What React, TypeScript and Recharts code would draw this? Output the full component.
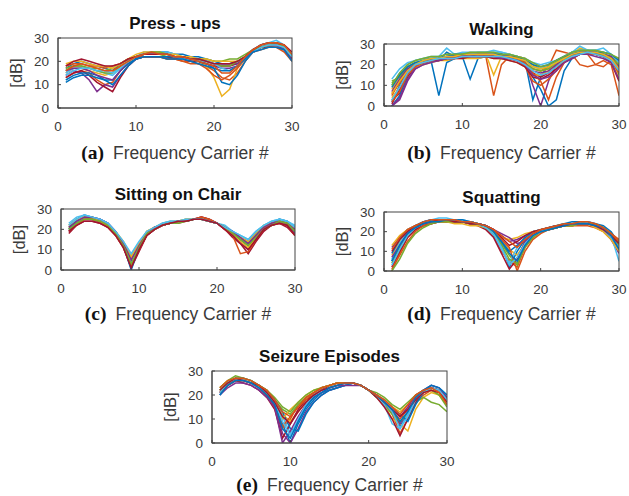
import React from 'react';
import { LineChart, Line, XAxis, YAxis } from 'recharts';

const carriers = [1, 2, 3, 4, 5, 6, 7, 8, 9, 10, 11, 12, 13, 14, 15, 16, 17, 18, 19, 20, 21, 22, 23, 24, 25, 26, 27, 28, 29, 30];
const xTicks = [0, 10, 20, 30];
const yTicks = [0, 10, 20, 30];
const lineColors = ['#0072BD', '#D95319', '#EDB120', '#7E2F8E', '#77AC30', '#4DBEEE', '#A2142F'];

const pressUps: number[][] = [
  [17, 19, 20, 19, 18, 17, 16, 19, 21, 22, 23, 24, 24, 24, 23, 23, 22, 22, 21, 20, 19, 19, 20, 22, 25, 27, 28, 28, 26, 22],
  [13, 15, 16, 15, 12, 10, 11, 16, 19, 21, 22, 22, 22, 21, 21, 20, 20, 19, 18, 16, 13, 12, 15, 20, 24, 26, 26, 27, 25, 21],
  [15, 17, 17, 16, 15, 14, 15, 18, 20, 22, 23, 23, 23, 23, 22, 22, 21, 20, 18, 13, 5, 8, 17, 21, 24, 26, 27, 28, 27, 23],
  [14, 16, 15, 12, 7, 10, 9, 14, 18, 21, 22, 22, 22, 22, 21, 21, 20, 20, 19, 18, 17, 17, 18, 21, 24, 26, 27, 27, 26, 22],
  [16, 18, 18, 17, 17, 16, 17, 19, 21, 22, 23, 23, 23, 22, 22, 22, 21, 21, 21, 20, 20, 21, 21, 23, 25, 26, 27, 27, 26, 23],
  [15, 17, 17, 17, 16, 15, 14, 17, 20, 22, 24, 24, 24, 24, 23, 22, 22, 21, 20, 19, 18, 18, 19, 22, 25, 27, 28, 29, 27, 23],
  [13, 15, 16, 14, 11, 9, 7, 13, 18, 21, 22, 22, 22, 22, 21, 21, 20, 20, 19, 18, 18, 18, 19, 21, 24, 26, 26, 26, 25, 21],
  [12, 14, 15, 15, 14, 12, 12, 16, 19, 21, 22, 22, 22, 22, 22, 21, 21, 20, 19, 17, 11, 10, 14, 20, 24, 26, 27, 27, 26, 22],
  [18, 19, 19, 18, 18, 17, 18, 19, 21, 22, 22, 22, 22, 21, 21, 20, 19, 19, 17, 14, 12, 14, 17, 21, 24, 25, 26, 26, 24, 20],
  [19, 20, 20, 19, 18, 18, 17, 19, 21, 23, 24, 24, 24, 23, 23, 22, 22, 21, 21, 20, 20, 20, 20, 22, 24, 26, 27, 27, 26, 23],
  [16, 17, 17, 16, 14, 13, 12, 16, 20, 22, 23, 23, 23, 23, 22, 22, 21, 21, 20, 19, 19, 19, 19, 21, 24, 26, 27, 27, 25, 21],
  [17, 18, 18, 17, 16, 15, 15, 18, 20, 22, 23, 24, 24, 23, 22, 22, 21, 21, 20, 19, 18, 18, 20, 22, 25, 26, 27, 28, 26, 22],
  [14, 16, 17, 17, 16, 16, 15, 17, 20, 22, 23, 23, 23, 23, 22, 21, 21, 20, 20, 19, 17, 16, 18, 21, 24, 26, 27, 27, 26, 22],
  [18, 20, 21, 20, 19, 18, 18, 19, 21, 22, 23, 23, 23, 23, 22, 22, 21, 21, 20, 19, 19, 19, 20, 22, 25, 27, 28, 28, 27, 24],
  [11, 13, 14, 14, 13, 12, 10, 14, 18, 21, 22, 22, 22, 21, 21, 21, 20, 19, 18, 17, 16, 16, 18, 21, 24, 25, 26, 26, 25, 20],
  [16, 18, 19, 18, 17, 16, 16, 18, 20, 22, 23, 24, 23, 23, 22, 22, 21, 20, 19, 18, 15, 15, 18, 22, 25, 27, 28, 28, 27, 23],
];

const walking: number[][] = [
  [2, 10, 17, 20, 21, 22, 5, 21, 23, 24, 24, 25, 25, 25, 25, 24, 23, 22, 3, 14, 20, 22, 24, 26, 27, 27, 26, 25, 23, 18],
  [5, 12, 18, 20, 21, 22, 23, 24, 24, 24, 25, 25, 24, 5, 20, 24, 24, 23, 18, 17, 19, 27, 26, 25, 20, 19, 20, 22, 20, 5],
  [8, 14, 18, 21, 21, 22, 23, 23, 24, 25, 25, 25, 25, 15, 24, 25, 24, 23, 20, 17, 18, 20, 23, 25, 28, 27, 26, 25, 24, 20],
  [0, 3, 12, 18, 20, 22, 23, 24, 24, 25, 25, 25, 25, 25, 25, 24, 23, 21, 10, 0, 12, 20, 23, 25, 26, 26, 26, 25, 23, 19],
  [12, 14, 19, 21, 22, 23, 23, 24, 24, 25, 25, 25, 25, 24, 24, 24, 23, 22, 20, 18, 19, 21, 23, 25, 26, 26, 26, 25, 24, 21],
  [10, 16, 20, 22, 23, 23, 24, 24, 25, 26, 26, 26, 26, 26, 26, 25, 24, 23, 21, 20, 21, 22, 24, 26, 27, 27, 27, 26, 25, 22],
  [3, 6, 14, 19, 21, 22, 23, 23, 24, 24, 24, 24, 24, 24, 24, 23, 22, 20, 16, 14, 16, 19, 22, 24, 25, 25, 25, 24, 22, 17],
  [0, 5, 15, 19, 21, 22, 22, 26, 24, 24, 13, 23, 24, 25, 25, 24, 23, 21, 14, 8, 0, 3, 17, 23, 26, 26, 25, 24, 22, 15],
  [6, 11, 17, 20, 21, 22, 22, 23, 23, 24, 24, 24, 24, 24, 23, 23, 22, 19, 12, 10, 13, 17, 22, 24, 26, 25, 20, 19, 22, 16],
  [4, 9, 16, 19, 20, 21, 22, 22, 23, 23, 23, 23, 24, 23, 23, 22, 21, 19, 15, 15, 17, 20, 22, 24, 25, 25, 25, 24, 22, 14],
  [7, 13, 18, 20, 21, 22, 22, 23, 23, 24, 24, 24, 24, 24, 24, 23, 22, 20, 17, 16, 17, 20, 23, 25, 26, 26, 26, 25, 24, 19],
  [11, 15, 19, 21, 21, 22, 23, 23, 24, 24, 24, 24, 24, 25, 24, 24, 23, 21, 18, 17, 18, 21, 23, 24, 25, 25, 25, 25, 23, 20],
  [13, 18, 21, 22, 23, 24, 24, 28, 25, 25, 25, 26, 26, 27, 26, 25, 24, 22, 19, 18, 20, 22, 24, 26, 29, 27, 27, 28, 25, 21],
  [1, 8, 16, 20, 21, 22, 22, 23, 23, 23, 24, 24, 24, 23, 23, 22, 21, 19, 14, 13, 15, 18, 21, 23, 25, 25, 25, 24, 21, 12],
  [9, 15, 19, 21, 22, 23, 23, 24, 25, 25, 25, 25, 25, 25, 25, 24, 24, 22, 20, 19, 20, 22, 24, 25, 26, 26, 26, 26, 25, 22],
  [2, 7, 15, 19, 21, 22, 23, 23, 24, 24, 24, 24, 25, 24, 24, 24, 23, 21, 16, 12, 3, 14, 21, 24, 25, 25, 25, 24, 22, 16],
  [6, 12, 17, 20, 22, 23, 23, 24, 24, 25, 25, 25, 25, 25, 24, 24, 23, 22, 19, 18, 19, 21, 23, 25, 26, 26, 26, 25, 23, 18],
  [0, 4, 13, 18, 20, 21, 22, 23, 23, 24, 24, 24, 24, 24, 23, 23, 22, 20, 15, 13, 14, 17, 21, 23, 25, 25, 24, 23, 21, 13],
  [10, 16, 20, 22, 23, 24, 24, 25, 25, 25, 26, 26, 26, 26, 25, 25, 24, 23, 21, 19, 20, 22, 24, 26, 27, 27, 27, 26, 25, 23],
  [3, 9, 16, 20, 21, 22, 23, 23, 23, 24, 24, 24, 24, 24, 24, 23, 22, 20, 17, 15, 16, 19, 22, 24, 25, 26, 25, 24, 22, 17],
];

const sitting: number[][] = [
  [22, 25, 27, 26, 25, 23, 19, 13, 2, 11, 17, 20, 22, 23, 24, 24, 25, 25, 24, 23, 21, 19, 16, 14, 18, 21, 23, 25, 24, 21],
  [20, 23, 25, 25, 24, 22, 18, 12, 5, 12, 18, 21, 22, 23, 24, 24, 25, 25, 24, 23, 21, 18, 15, 12, 16, 21, 22, 24, 23, 19],
  [21, 24, 26, 25, 24, 22, 19, 14, 7, 13, 19, 21, 23, 24, 24, 25, 25, 25, 24, 23, 21, 18, 16, 14, 18, 22, 23, 24, 23, 20],
  [19, 23, 25, 25, 24, 22, 18, 12, 4, 10, 17, 20, 22, 23, 24, 24, 25, 26, 25, 23, 20, 17, 14, 10, 15, 20, 22, 23, 22, 18],
  [21, 24, 26, 25, 24, 22, 18, 13, 6, 12, 18, 21, 22, 23, 24, 24, 25, 25, 24, 23, 21, 18, 15, 13, 17, 21, 22, 24, 23, 19],
  [23, 26, 27, 26, 25, 23, 19, 13, 3, 12, 18, 21, 23, 24, 24, 25, 25, 25, 24, 23, 22, 19, 17, 15, 19, 22, 24, 25, 24, 22],
  [18, 22, 24, 24, 23, 21, 17, 11, 1, 9, 17, 20, 22, 23, 23, 24, 25, 26, 25, 23, 20, 16, 13, 8, 14, 19, 22, 23, 21, 17],
  [20, 24, 26, 26, 24, 22, 18, 12, 0, 11, 18, 21, 22, 23, 24, 24, 25, 25, 24, 23, 21, 18, 15, 12, 17, 21, 23, 24, 23, 19],
  [19, 22, 25, 25, 24, 21, 17, 11, 2, 10, 17, 20, 22, 23, 24, 24, 25, 26, 25, 23, 20, 17, 8, 9, 15, 20, 22, 23, 22, 17],
  [22, 25, 26, 26, 24, 22, 18, 13, 6, 13, 19, 21, 22, 23, 24, 25, 25, 25, 24, 23, 21, 18, 14, 11, 16, 21, 23, 24, 23, 20],
  [21, 24, 26, 26, 25, 23, 19, 13, 5, 12, 18, 21, 22, 23, 24, 24, 25, 25, 24, 23, 21, 19, 16, 13, 17, 21, 23, 24, 23, 20],
  [20, 23, 25, 25, 24, 22, 18, 12, 3, 11, 18, 20, 22, 23, 23, 24, 25, 25, 24, 23, 21, 18, 15, 12, 16, 20, 22, 24, 23, 19],
  [22, 25, 27, 26, 25, 23, 19, 14, 8, 14, 19, 21, 23, 24, 24, 25, 25, 25, 24, 23, 21, 19, 17, 15, 19, 22, 24, 25, 24, 21],
  [19, 22, 24, 24, 23, 21, 17, 11, 1, 10, 17, 20, 22, 23, 24, 24, 25, 25, 24, 23, 20, 17, 13, 10, 15, 20, 22, 23, 22, 17],
];

const squatting: number[][] = [
  [5, 14, 20, 23, 25, 26, 26, 26, 26, 25, 25, 24, 23, 20, 13, 2, 10, 16, 19, 21, 22, 23, 23, 24, 24, 24, 23, 21, 17, 10],
  [0, 9, 17, 21, 23, 24, 25, 25, 25, 25, 24, 24, 22, 18, 10, 5, 2, 12, 17, 20, 21, 22, 23, 23, 23, 23, 22, 20, 16, 12],
  [8, 15, 19, 22, 24, 25, 25, 26, 26, 25, 25, 24, 23, 21, 16, 11, 8, 14, 18, 21, 22, 23, 24, 24, 25, 24, 23, 21, 18, 13],
  [12, 17, 21, 23, 24, 25, 25, 25, 25, 25, 24, 24, 23, 21, 18, 15, 16, 18, 20, 21, 22, 23, 23, 24, 24, 24, 23, 21, 16, 9],
  [4, 12, 18, 22, 24, 25, 26, 26, 26, 25, 25, 24, 22, 19, 14, 8, 3, 13, 18, 20, 22, 23, 23, 24, 24, 24, 23, 22, 19, 15],
  [6, 14, 20, 23, 25, 26, 27, 27, 26, 26, 25, 24, 22, 18, 11, 4, 12, 17, 20, 21, 22, 23, 24, 24, 25, 25, 24, 22, 18, 5],
  [2, 10, 17, 21, 23, 24, 25, 25, 25, 25, 24, 23, 21, 17, 9, 1, 6, 15, 19, 20, 21, 22, 23, 23, 24, 24, 23, 21, 17, 11],
  [9, 16, 21, 23, 25, 26, 26, 26, 26, 26, 25, 24, 23, 20, 15, 10, 13, 17, 20, 21, 22, 23, 24, 25, 25, 25, 24, 23, 20, 14],
  [1, 8, 15, 20, 23, 24, 25, 25, 25, 25, 25, 24, 23, 20, 16, 12, 0, 10, 16, 19, 21, 22, 23, 23, 24, 24, 23, 22, 19, 16],
  [13, 18, 21, 23, 24, 25, 25, 25, 24, 24, 23, 23, 22, 20, 17, 16, 17, 19, 20, 21, 22, 22, 23, 23, 24, 24, 22, 20, 16, 10],
  [7, 13, 19, 22, 24, 25, 25, 26, 25, 25, 24, 24, 23, 21, 19, 17, 14, 15, 18, 20, 21, 22, 23, 24, 24, 24, 23, 21, 18, 12],
  [0, 6, 14, 19, 22, 24, 25, 25, 25, 25, 24, 24, 22, 19, 13, 6, 4, 12, 17, 20, 21, 22, 23, 23, 24, 24, 24, 22, 19, 13],
  [3, 11, 18, 22, 24, 25, 26, 26, 26, 25, 25, 24, 22, 19, 12, 3, 7, 14, 18, 20, 22, 23, 23, 24, 24, 24, 23, 21, 17, 12],
  [10, 16, 20, 23, 24, 25, 26, 26, 25, 25, 24, 24, 23, 21, 17, 13, 15, 18, 20, 21, 22, 23, 23, 24, 24, 24, 23, 21, 18, 14],
  [5, 13, 19, 22, 24, 25, 25, 26, 26, 25, 25, 24, 23, 20, 15, 9, 5, 13, 18, 20, 21, 22, 23, 24, 24, 24, 23, 22, 18, 11],
  [11, 17, 21, 23, 25, 26, 26, 26, 26, 25, 25, 24, 23, 21, 18, 15, 12, 16, 19, 21, 22, 23, 24, 24, 25, 25, 24, 22, 19, 15],
];

const seizure: number[][] = [
  [20, 24, 26, 26, 25, 23, 20, 16, 8, 0, 8, 14, 18, 21, 22, 23, 24, 25, 24, 22, 20, 17, 13, 7, 12, 18, 21, 23, 22, 19],
  [22, 25, 27, 26, 25, 23, 20, 15, 6, 10, 16, 19, 21, 23, 24, 25, 25, 25, 24, 22, 20, 17, 12, 4, 10, 17, 20, 22, 21, 18],
  [23, 26, 27, 26, 25, 24, 22, 18, 12, 9, 13, 17, 20, 22, 23, 24, 25, 25, 24, 22, 20, 16, 10, 8, 5, 14, 19, 21, 20, 16],
  [21, 25, 26, 26, 25, 24, 21, 16, 4, 0, 6, 13, 17, 20, 22, 23, 24, 25, 24, 22, 20, 17, 13, 8, 13, 19, 22, 23, 22, 18],
  [23, 26, 28, 27, 26, 24, 22, 18, 14, 12, 16, 19, 21, 23, 24, 25, 25, 25, 24, 22, 19, 16, 12, 9, 12, 17, 19, 17, 16, 13],
  [20, 24, 26, 26, 25, 23, 21, 17, 11, 4, 9, 15, 19, 21, 23, 24, 24, 25, 24, 22, 20, 16, 8, 6, 12, 18, 21, 24, 23, 20],
  [21, 24, 26, 25, 24, 22, 19, 14, 2, 8, 14, 18, 20, 22, 24, 25, 25, 25, 24, 22, 19, 15, 10, 3, 10, 17, 21, 23, 22, 18],
  [22, 25, 27, 27, 26, 24, 22, 18, 13, 6, 5, 12, 17, 20, 22, 23, 24, 25, 24, 22, 20, 18, 15, 12, 9, 16, 21, 23, 22, 19],
  [21, 24, 26, 26, 25, 23, 20, 15, 7, 11, 15, 18, 21, 23, 24, 25, 25, 25, 24, 22, 20, 17, 13, 10, 14, 19, 22, 23, 22, 18],
  [22, 25, 27, 26, 25, 24, 21, 17, 10, 14, 17, 20, 22, 23, 24, 25, 25, 25, 24, 22, 20, 18, 15, 13, 16, 20, 21, 22, 20, 16],
  [20, 23, 25, 25, 24, 22, 19, 15, 0, 5, 11, 16, 19, 21, 23, 24, 24, 24, 24, 22, 20, 17, 14, 11, 15, 20, 22, 24, 23, 19],
  [22, 25, 27, 27, 26, 24, 22, 19, 15, 13, 17, 20, 22, 23, 24, 25, 25, 25, 24, 22, 21, 19, 16, 14, 17, 20, 22, 22, 20, 15],
  [21, 25, 27, 26, 25, 23, 21, 17, 9, 3, 10, 16, 20, 22, 23, 24, 25, 25, 24, 22, 20, 17, 13, 6, 11, 18, 21, 23, 22, 18],
  [22, 25, 27, 26, 25, 24, 21, 17, 11, 8, 13, 17, 20, 22, 23, 24, 25, 25, 24, 22, 20, 17, 14, 11, 14, 18, 21, 22, 21, 17],
  [20, 24, 26, 26, 25, 23, 20, 16, 6, 2, 9, 15, 19, 21, 23, 24, 25, 25, 24, 22, 20, 17, 14, 9, 13, 19, 22, 24, 23, 20],
  [23, 26, 27, 27, 26, 24, 22, 18, 13, 11, 15, 19, 21, 23, 24, 25, 25, 25, 24, 22, 20, 18, 15, 12, 16, 20, 22, 23, 21, 16],
];

type Box = { x0: number; x1: number; y0: number; y1: number };

const panels: { title: string; letter: string; series: number[][]; box: Box; capY: number }[] = [
  { title: 'Press - ups', letter: '(a)', series: pressUps, box: { x0: 58, x1: 292, y0: 38, y1: 108 }, capY: 158.5 },
  { title: 'Walking', letter: '(b)', series: walking, box: { x0: 384, x1: 619, y0: 44, y1: 106 }, capY: 158.5 },
  { title: 'Sitting on Chair', letter: '(c)', series: sitting, box: { x0: 61, x1: 295, y0: 209, y1: 270 }, capY: 320 },
  { title: 'Squatting', letter: '(d)', series: squatting, box: { x0: 384, x1: 619, y0: 212, y1: 271 }, capY: 320 },
  { title: 'Seizure Episodes', letter: '(e)', series: seizure, box: { x0: 212, x1: 447, y0: 371, y1: 443 }, capY: 491 },
];

const SANS = '"Liberation Sans", Arial, Helvetica, sans-serif';
const SERIF = '"Liberation Serif", "Times New Roman", serif';
const AXIS = '#444';
const TICKTXT = '#3a3a3a';

function toRows(series: number[][]) {
  return carriers.map((c, i) => {
    const row: Record<string, number> = { x: c };
    series.forEach((s, k) => {
      row['s' + k] = s[i];
    });
    return row;
  });
}

const ML = 50;
const MB = 30;
const MT = 12;
const MR = 14;

function Panel({ series, box }: { series: number[][]; box: Box }) {
  const w = box.x1 - box.x0;
  const h = box.y1 - box.y0;
  const rows = toRows(series);
  const line = { stroke: AXIS, strokeWidth: 1 };
  return (
    <div style={{ position: 'absolute', left: box.x0 - ML, top: box.y0 - MT }}>
      <LineChart width={w + ML + MR} height={h + MT + MB} data={rows} margin={{ top: MT, right: MR, bottom: 0, left: 0 }}>
        <XAxis
          xAxisId="b"
          dataKey="x"
          type="number"
          domain={[0, 30]}
          ticks={xTicks}
          interval={0}
          allowDataOverflow
          height={MB}
          axisLine={line}
          tickLine={line}
          tickSize={-3}
          tickMargin={16}
          tick={{ fontSize: 13.5, fill: TICKTXT, fontFamily: SANS }}
        />
        <XAxis
          xAxisId="t"
          orientation="top"
          type="number"
          domain={[0, 30]}
          ticks={xTicks}
          interval={0}
          allowDataOverflow
          height={0}
          axisLine={line}
          tickLine={line}
          tickSize={-3}
          tick={() => <g />}
        />
        <YAxis
          yAxisId="l"
          type="number"
          domain={[0, 30]}
          ticks={yTicks}
          interval={0}
          allowDataOverflow
          width={ML}
          axisLine={line}
          tickLine={line}
          tickSize={-3}
          tickMargin={12}
          tick={{ fontSize: 13.5, fill: TICKTXT, fontFamily: SANS }}
        />
        <YAxis
          yAxisId="r"
          orientation="right"
          type="number"
          domain={[0, 30]}
          ticks={yTicks}
          interval={0}
          allowDataOverflow
          width={0}
          axisLine={line}
          tickLine={line}
          tickSize={-3}
          tick={() => <g />}
        />
        {series.map((_, k) => (
          <Line
            key={k}
            xAxisId="b"
            yAxisId="l"
            dataKey={'s' + k}
            type="linear"
            stroke={lineColors[k % lineColors.length]}
            strokeWidth={1.5}
            dot={false}
            isAnimationActive={false}
          />
        ))}
      </LineChart>
    </div>
  );
}

export default function App() {
  return (
    <div style={{ position: 'absolute', left: 0, top: 0, width: 629, height: 496, background: '#fff', overflow: 'hidden' }}>
      {panels.map((p) => (
        <Panel key={p.letter} series={p.series} box={p.box} />
      ))}
      <svg width={629} height={496} style={{ position: 'absolute', left: 0, top: 0, pointerEvents: 'none' }}>
        {panels.map((p) => {
          const cx = (p.box.x0 + p.box.x1) / 2;
          const cy = (p.box.y0 + p.box.y1) / 2;
          return (
            <g key={p.letter}>
              <rect
                x={p.box.x0}
                y={p.box.y0}
                width={p.box.x1 - p.box.x0}
                height={p.box.y1 - p.box.y0}
                fill="none"
                stroke={AXIS}
                strokeWidth={1}
              />
              <text x={cx} y={p.box.y0 - 9} textAnchor="middle" fontFamily={SANS} fontWeight="bold" fontSize={17} fill="#111">
                {p.title}
              </text>
              <text
                transform={`translate(${p.box.x0 - 36}, ${cy}) rotate(-90)`}
                textAnchor="middle"
                fontFamily={SANS}
                fontSize={16.5}
                fill={TICKTXT}
              >
                [dB]
              </text>
              <text x={cx} y={p.capY} textAnchor="middle">
                <tspan fontFamily={SERIF} fontWeight="bold" fontSize={19.5} fill="#111">
                  {p.letter}
                </tspan>
                <tspan dx={9} fontFamily={SANS} fontSize={17.5} fill={TICKTXT}>
                  Frequency Carrier #
                </tspan>
              </text>
            </g>
          );
        })}
      </svg>
    </div>
  );
}
